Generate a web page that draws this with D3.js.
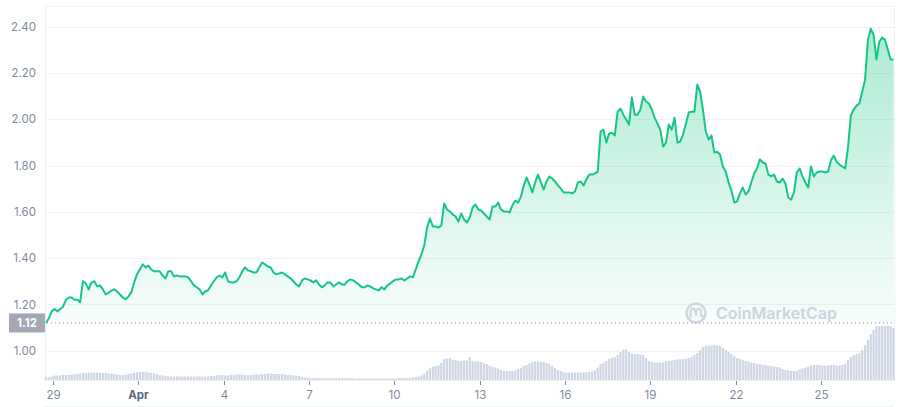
<!DOCTYPE html>
<html><head><meta charset="utf-8">
<script src="https://cdn.jsdelivr.net/npm/d3@7"></script>
<style>html,body{margin:0;padding:0;background:#fff;}svg{display:block;font-family:Inter,"Noto Sans",sans-serif;}</style>
</head><body><svg id="c" width="911" height="407"></svg>
<script>
// ---- data ----
const startTime = Date.UTC(2021, 2, 28, 18); // first sample
const stepHours = 2.4;                        // sample interval
const openPrice = 1.12;
const yTicks = [1.00, 1.20, 1.40, 1.60, 1.80, 2.00, 2.20, 2.40];
const xTickDays = [[2,29],[3,1],[3,4],[3,7],[3,10],[3,13],[3,16],[3,19],[3,22],[3,25]]; // [month index, day]
const prices = [
1.12,1.14,1.17,1.18,1.17,1.18,1.19,1.22,1.23,1.23,
1.22,1.22,1.21,1.30,1.29,1.265,1.295,1.30,1.278,1.282,
1.265,1.243,1.25,1.26,1.265,1.256,1.243,1.23,1.222,1.235,
1.252,1.295,1.33,1.351,1.373,1.36,1.368,1.351,1.343,1.343,
1.343,1.325,1.312,1.343,1.343,1.321,1.325,1.321,1.321,1.321,
1.317,1.30,1.282,1.274,1.265,1.243,1.256,1.261,1.282,1.30,
1.317,1.325,1.317,1.338,1.30,1.295,1.295,1.30,1.317,1.343,
1.36,1.347,1.343,1.338,1.338,1.36,1.381,1.373,1.364,1.36,
1.338,1.33,1.334,1.338,1.33,1.321,1.312,1.30,1.286,1.278,
1.304,1.312,1.308,1.304,1.295,1.304,1.286,1.274,1.282,1.295,
1.295,1.278,1.286,1.295,1.286,1.286,1.30,1.308,1.304,1.295,
1.286,1.274,1.274,1.282,1.278,1.27,1.265,1.261,1.274,1.265,
1.282,1.29,1.30,1.308,1.308,1.312,1.304,1.312,1.321,1.317,
1.351,1.386,1.416,1.455,1.532,1.571,1.537,1.537,1.532,1.541,
1.636,1.61,1.602,1.589,1.58,1.558,1.593,1.567,1.554,1.576,
1.619,1.632,1.61,1.606,1.593,1.58,1.567,1.623,1.623,1.64,
1.61,1.602,1.602,1.597,1.628,1.649,1.64,1.666,1.714,1.748,
1.718,1.684,1.727,1.761,1.727,1.696,1.731,1.753,1.744,1.731,
1.714,1.70,1.684,1.684,1.684,1.68,1.688,1.727,1.731,1.714,
1.74,1.761,1.761,1.766,1.774,1.947,1.955,1.899,1.938,1.942,
1.93,2.033,2.046,2.02,1.999,1.977,2.094,2.02,2.02,2.042,
2.098,2.077,2.068,2.042,2.007,1.981,1.955,1.882,1.899,1.977,
1.955,2.007,1.899,1.904,1.934,1.981,2.029,2.033,2.033,2.15,
2.12,2.04,1.947,1.912,1.93,1.856,1.86,1.848,1.796,1.774,
1.727,1.692,1.64,1.645,1.68,1.705,1.675,1.688,1.727,1.766,
1.787,1.826,1.813,1.809,1.761,1.753,1.761,1.731,1.727,1.744,
1.722,1.662,1.653,1.684,1.77,1.787,1.753,1.727,1.705,1.796,
1.753,1.77,1.774,1.774,1.77,1.774,1.822,1.843,1.817,1.804,
1.796,1.787,1.878,2.016,2.042,2.059,2.068,2.119,2.171,2.344,
2.391,2.365,2.258,2.335,2.353,2.344,2.301,2.258,2.258
];
const volumes = [ // trading volume, tens of millions
3,3,3.5,4.5,4.5,4.5,5,5,5,5.5,
6,6,6.5,7,7,7.5,7.5,7.5,7.5,7,
7,7,6.5,6.5,6,5.5,5,5,5.5,6,
6.5,7,7.5,8,8,8,7.5,7,6.5,6,
5,4.5,4,3.5,3.5,3.5,3.5,3.5,3.5,3.5,
3.5,3.5,3.5,3.5,3.5,3.5,3.5,3.5,4,4,
4.5,5,5,4.5,4.5,5,5,5.5,5.5,5.5,
5,5,5,5.5,5.5,5.5,6,6,6.5,6.5,
6,6,6,6,5.5,5,5,4.5,4.5,4,
3,2.5,2.5,2,2,2,2,2,2,2,
2,2,2,2,2,2,2,2,1.5,1.5,
1.5,1.5,1.5,1.5,1.5,1.5,1.5,1.5,1.5,1.5,
1.5,1.5,1.5,1.5,2,2,2,2,2,2.5,
3,3.5,4.5,6.5,9,11.5,13.5,14,14.5,17,
21,21.5,22,20.5,20,19,19,19.5,19.5,23,
19,18.5,18.5,18,16.5,16,14.5,13,12.5,11.5,
10,9,9,9,9,9.5,11,12,14,15,
16.5,18,18.5,18.5,18,18,17,16,14,12,
10,9,8,7.5,7.5,7.5,7.5,7.5,7.5,7.5,
7.5,8,8.5,9.5,12.5,16,17,19,21,22,
23,25,28,30.5,30.5,28,26.5,26,26,25.5,
25,22,19,18,17.5,17.5,17.5,17.5,19,19,
19.5,20,20.5,21,21,21.5,22,23,25,27,
30,33,34,34.5,34.5,35,34.5,34,32,30,
28,26,24,22,21,20,19,18.5,17.5,17,
16,16,15,15,14.5,14,13.5,13,12.5,11,
10,9.5,9,9,9,10.5,11.5,12.5,13.5,14.5,
15,15,15,14.5,14.5,14.5,15,15,14.5,14.5,
15,16,20,23,25,26,27,30,35,40,
46,50,54,54,54,54,54,54,52
];
// ---- chart ----
const HOUR = 3600e3;
const times = prices.map((_, i) => new Date(startTime + i * stepHours * HOUR));
const rows = times.map((t, i) => ({t, p: prices[i], v: volumes[i]}));

const L = 45, R = 894, T = 6, B = 380;
const svg = d3.select("#c");
const x = d3.scaleUtc().domain([times[0], times[times.length - 1]]).range([46, 893.5]);
const y = d3.scaleLinear().domain([1.0, 2.4]).range([350.7, 26.7]);
const yv = d3.scaleLinear().domain([0, 55]).range([B, B - 55]);

// gradient
const defs = svg.append("defs");
const g1 = defs.append("linearGradient").attr("id", "ga").attr("gradientUnits", "userSpaceOnUse")
  .attr("x1", 0).attr("x2", 0).attr("y1", y(2.4)).attr("y2", y(openPrice));
g1.append("stop").attr("offset", 0).attr("stop-color", "#16c784").attr("stop-opacity", 0.36);
g1.append("stop").attr("offset", 1).attr("stop-color", "#16c784").attr("stop-opacity", 0.03);

// frame
const gridC = "#eff2f5";
svg.append("line").attr("x1", L).attr("x2", R).attr("y1", T + 0.5).attr("y2", T + 0.5).attr("stroke", gridC);
svg.append("line").attr("x1", L + 0.5).attr("x2", L + 0.5).attr("y1", T).attr("y2", B).attr("stroke", gridC).attr("stroke-width", 1.5);
svg.append("line").attr("x1", R + 0.5).attr("x2", R + 0.5).attr("y1", T).attr("y2", B).attr("stroke", gridC);
svg.append("line").attr("x1", L).attr("x2", R).attr("y1", 406.5).attr("y2", 406.5).attr("stroke", "#eef0f8");

// y grid + labels
const yg = svg.append("g");
yTicks.forEach(v => {
  yg.append("line").attr("x1", L).attr("x2", R).attr("y1", Math.round(y(v)) + 0.5).attr("y2", Math.round(y(v)) + 0.5).attr("stroke", gridC);
  yg.append("text").attr("x", 36).attr("y", y(v)).attr("dy", "0.36em").attr("text-anchor", "end")
    .attr("font-size", 11.5).attr("fill", "#808a9d").text(v.toFixed(2));
});

// volume bars
svg.append("g").selectAll("rect").data(rows).join("rect")
  .attr("x", d => x(d.t) - 1.1).attr("width", 2.2)
  .attr("y", d => yv(d.v)).attr("height", d => B - yv(d.v))
  .attr("fill", "#cfd6e4");

// bottom line
svg.append("line").attr("x1", L).attr("x2", R).attr("y1", B + 0.5).attr("y2", B + 0.5).attr("stroke", gridC);

// area + line
svg.append("path").datum(rows)
  .attr("d", d3.area().x(d => x(d.t)).y0(y(openPrice)).y1(d => y(d.p)))
  .attr("fill", "url(#ga)");

// watermark
const wm = svg.append("g").attr("transform", "translate(696,313)").attr("opacity", 0.9);
wm.append("circle").attr("r", 9.5).attr("fill", "none").attr("stroke", "#cdd3df").attr("stroke-width", 2.4);
wm.append("path").attr("d", "M-5.5,4 L-5.5,0 Q-5.5,-4.5 -3,-4.5 Q-1,-4.5 -0.5,-1 L0,2 Q0.5,-4.5 2.5,-4.5 Q5,-4.5 5,0 L5,2 Q5.5,4.5 8,3")
  .attr("fill", "none").attr("stroke", "#cdd3df").attr("stroke-width", 2.2).attr("stroke-linecap", "round").attr("stroke-linejoin", "round");
svg.append("text").attr("x", 716).attr("y", 319).attr("font-size", 16).attr("font-weight", 600)
  .attr("fill", "#cdd3df").text("CoinMarketCap");

svg.append("path").datum(rows)
  .attr("d", d3.line().x(d => x(d.t)).y(d => y(d.p)))
  .attr("fill", "none").attr("stroke", "#16c784").attr("stroke-width", 2).attr("stroke-linejoin", "round");

// opening price dotted line
svg.append("line").attr("x1", L + 2).attr("x2", R).attr("y1", y(openPrice)).attr("y2", y(openPrice))
  .attr("stroke", "#8d95a5").attr("stroke-width", 1).attr("stroke-dasharray", "1,3");
svg.append("rect").attr("x", 9).attr("y", y(openPrice) - 9.5).attr("width", 36).attr("height", 19).attr("fill", "#a3a8b4");
svg.append("text").attr("x", 27).attr("y", y(openPrice)).attr("dy", "0.36em").attr("text-anchor", "middle")
  .attr("font-size", 11.5).attr("font-weight", 700).attr("fill", "#fff").text(openPrice.toFixed(2));

// x axis
const xt = svg.append("g");
xTickDays.forEach(([m, d]) => {
  const t = new Date(Date.UTC(2021, m, d));
  const px = Math.round(x(t)) + 0.5;
  xt.append("line").attr("x1", px).attr("x2", px).attr("y1", B + 1).attr("y2", B + 5).attr("stroke", "#808a9d");
  const first = d === 1;
  xt.append("text").attr("x", px).attr("y", 399).attr("text-anchor", "middle").attr("font-size", 11.5)
    .attr("font-weight", first ? 700 : 400).attr("fill", first ? "#58667e" : "#808a9d")
    .text(first ? d3.utcFormat("%b")(t) : d);
});
</script></body></html>
